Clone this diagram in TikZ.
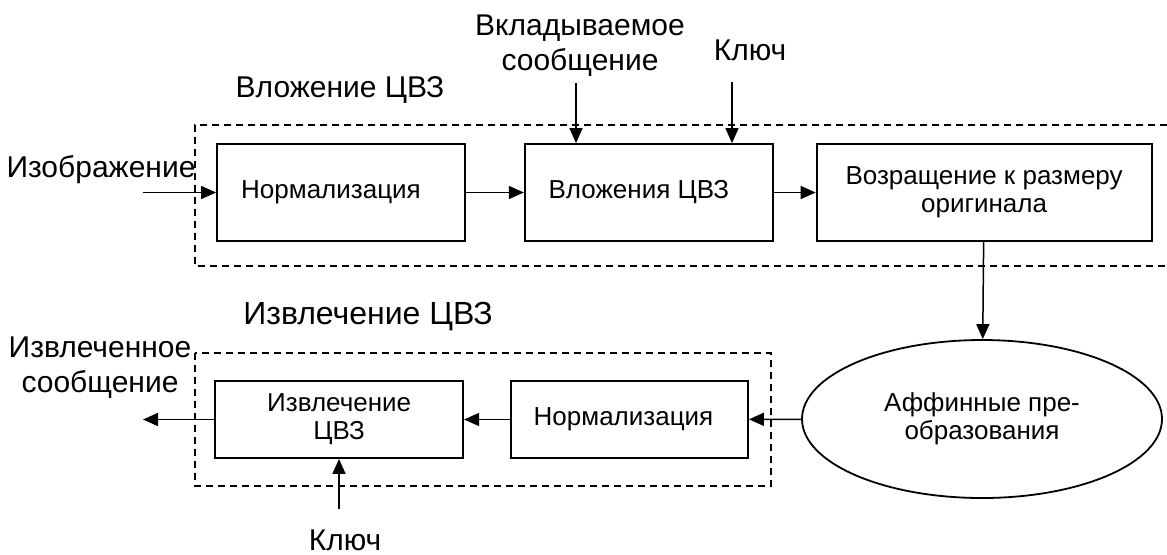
\documentclass[tikz,border=0pt]{standalone}
\usepackage{fontspec}
\setmainfont{Liberation Sans}
\usetikzlibrary{arrows.meta,positioning,shapes.geometric}

\begin{document}
\begin{tikzpicture}[
    x=0.5pt, y=-0.5pt,
    font=\fontsize{13}{14}\selectfont,
    box/.style={draw, line width=0.9pt, align=center, minimum height=48.5pt, inner sep=0pt},
    ell/.style={draw, ellipse, line width=0.9pt, align=center, minimum width=180pt,
                minimum height=79pt, inner sep=0pt},
    arr/.style={-{Triangle[length=7.5pt, width=6.5pt]}, line width=0.75pt},
    frame/.style={line width=0.8pt, dash pattern=on 3.5pt off 2.5pt},
    lbl/.style={align=center, font=\fontsize{15}{17.5}\selectfont},
  ]
  \useasboundingbox (0,0) rectangle (1167,554);

  % embedding
  \node[box, minimum width=124pt] (norm) at (341,192.5) {Нормализация\hspace*{10pt}};
  \node[box, minimum width=124pt, right=29pt of norm] (emb) {Вложения ЦВЗ\hspace*{10pt}};
  \node[box, minimum width=167.5pt, right=21pt of emb] (resz) {Возращение к размеру\\оригинала};
  \draw[frame] (1167,125) -| (195,266) -- (1167,266);
  \node[lbl] (embttl) at (340,90) {Вложение ЦВЗ};
  \node[lbl] (img) at (101,170) {Изображение};
  \node[lbl] (msg) at (580,46) {Вкладываемое\\сообщение};
  \node[lbl] (key) at (750,50) {Ключ};
  \coordinate (imgin) at (143,192.5);
  \coordinate (msgin) at (576,83);
  \coordinate (keyin) at (732,82);
  \draw[arr] (imgin) -- (norm);
  \draw[arr] (norm) -- (emb);
  \draw[arr] (emb) -- (resz);
  \draw[arr] (msgin) -- (msgin |- emb.north);
  \draw[arr] (keyin) -- (keyin |- emb.north);

  % attack
  \node[ell] (aff) at (982,419) {Аффинные пре-\\образования};
  \draw[arr] (resz) -- (aff);

  % extraction
  \node[box, minimum width=118.5pt, minimum height=38.5pt] (norm2) at (629.5,419.5) {Нормализация\hspace*{6pt}};
  \node[box, minimum width=124pt, minimum height=38.5pt, left=23pt of norm2] (extr) {Извлечение\\ЦВЗ};
  \draw[frame] (195,353) rectangle (771,486);
  \node[lbl, font=\fontsize{16}{18}\selectfont] (extttl) at (368,317) {Извлечение ЦВЗ};
  \node[lbl] (out) at (100,368) {Извлеченное\\сообщение};
  \node[lbl] (key2) at (345,540) {Ключ};
  \coordinate (outend) at (143,419.5);
  \coordinate (key2in) at (339,509);
  \draw[arr] (aff) -- (norm2);
  \draw[arr] (norm2) -- (extr);
  \draw[arr] (extr) -- (outend);
  \draw[arr] (key2in) -- (key2in |- extr.south);
\end{tikzpicture}
\end{document}
